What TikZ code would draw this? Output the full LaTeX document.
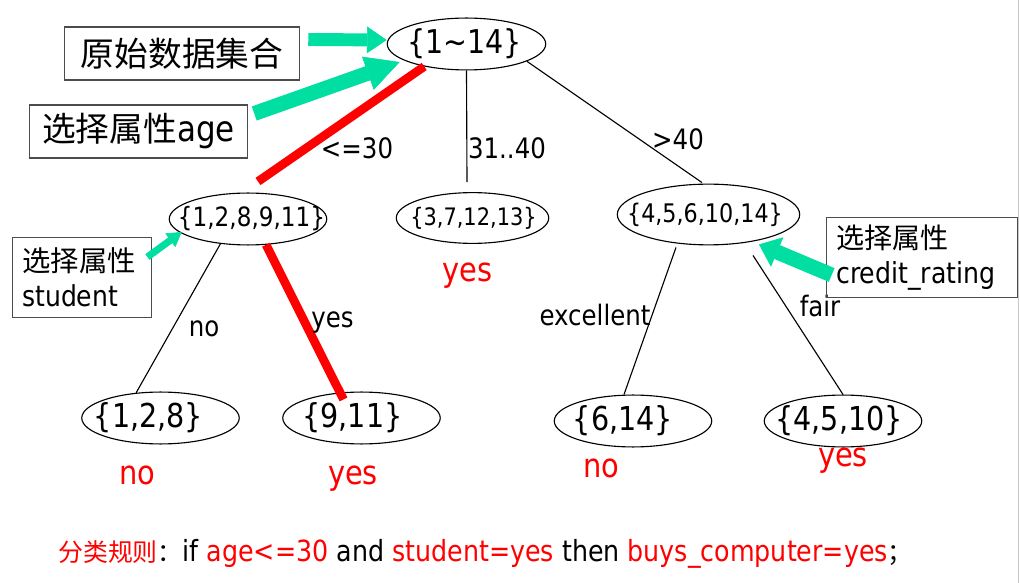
\documentclass[tikz,border=0pt]{standalone}
\usepackage{fontspec}
\setmainfont{DejaVu Sans}[FakeStretch=0.87]
\newfontfamily\cjk{Noto Sans CJK SC}
\usetikzlibrary{arrows.meta,shapes.geometric}
\definecolor{pickgreen}{RGB}{0,222,162}
\newcommand{\fsz}[2]{\fontsize{#1pt}{#2pt}\selectfont}
\newcommand{\settext}[2]{\makebox[0pt]{\kern#1\relax#2\kern-#1\relax}}
\tikzset{
  setnode/.style={draw, ellipse, inner sep=0pt, line width=0.8pt},
  leafset/.style={setnode, minimum width=112pt, minimum height=36.9pt, font=\fsz{23.4}{28}},
  notebox/.style={draw=black!70, line width=0.9pt, inner sep=0pt},
  branch/.style={line width=0.8pt},
  chosen/.style={red, line width=6.2pt},
  edgelabel/.style={font=\fsz{20}{24}},
  leaflabel/.style={red, font=\fsz{23.6}{28}},
  pickarrow/.style n args={3}{pickgreen, line width=#1, -{Triangle[width=#2,length=#3,line width=0.4pt]}}
}
\begin{document}
\begin{tikzpicture}[x=0.025cm, y=-0.025cm]
\useasboundingbox (0,0) rectangle (1020,583);
\draw[black!22, line width=1.2pt] (1018.5,0) -- (1018.5,583);

\node[setnode, minimum width=112.7pt, minimum height=36.9pt, font=\fsz{23.3}{28}] (root) at (466.5,44) {\settext{-1.4pt}{\{1\textasciitilde14\}}};
\node[setnode, minimum width=112pt, minimum height=36.9pt, font=\fsz{18.9}{22}] (nleft) at (248,219) {\settext{2.5pt}{\{1,2,8,9,11\}}};
\node[setnode, minimum width=108.4pt, minimum height=36.1pt, font=\fsz{17.1}{20}] (nmid) at (472.5,218) {\settext{0.7pt}{\{3,7,12,13\}}};
\node[setnode, minimum width=129.7pt, minimum height=43.2pt, font=\fsz{18.2}{22}] (nright) at (708.5,214.5) {\settext{-2.5pt}{\{4,5,6,10,14\}}};
\node[leafset] (nll) at (160.5,418) {\settext{-8.5pt}{\{1,2,8\}}};
\node[leafset] (nlr) at (361.5,418) {\settext{-6.4pt}{\{9,11\}}};
\node[leafset] (nrl) at (633,421) {\settext{-7.1pt}{\{6,14\}}};
\node[leafset] (nrr) at (843,421) {\settext{-2.8pt}{\{4,5,10\}}};

\draw[chosen] (root.208) -- ([shift={(10,-11)}]nleft.north);
\draw[branch] (root.south) -- ([shift={(-5.5,-10)}]nmid.north);
\draw[branch] (root.-16) -- ([shift={(-6.5,-1)}]nright.north);
\draw[branch] (nleft.222) -- (nll.134);
\draw[chosen] (nleft.-55) -- ([shift={(-18,8)}]nlr.north);
\draw[branch] ([shift={(-32.5,2)}]nright.south) -- ([shift={(-9,0)}]nrl.north);
\draw[branch] ([shift={(44.5,10)}]nright.south) -- (nrr.north);

\node[edgelabel] (lbyoung) at (357,148) {<=30};
\node[edgelabel] (lbmiddle) at (507,148) {31..40};
\node[edgelabel] (lbsenior) at (678,139) {>40};
\node[edgelabel] (lbno) at (204,328.5) {no};
\node[edgelabel] (lbyes) at (332.5,322.5) {yes};
\node[edgelabel] (lbexc) at (595,315) {excellent};
\node[edgelabel] (lbfair) at (820,306) {fair};

\node[leaflabel] (rmid) at (467.5,275.5) {yes};
\node[leaflabel] (rll) at (137.5,475) {no};
\node[leaflabel] (rlr) at (353,479) {yes};
\node[leaflabel] (rrl) at (601,468) {no};
\node[leaflabel] (rrr) at (843,461) {yes};

\node[notebox, minimum width=167.3pt, minimum height=37.6pt, font=\cjk\fsz{24}{28}] (rawbox) at (182,53.5) {原始数据集合};
\node[notebox, minimum width=155.2pt, minimum height=37.6pt] (agebox) at (138.5,131.5) {{\cjk\fsz{24}{28}选择属性}{\fsz{25.3}{30}age}};
\node[notebox, text width=85pt, inner xsep=7.1pt, minimum height=57.4pt, align=left, font=\fsz{20.5}{24.8}] (stubox) at (82,277.5) {{\cjk\fsz{20.2}{24.8}选择属性}\\student};
\node[notebox, text width=121.9pt, inner xsep=7.1pt, minimum height=57.4pt, align=left, font=\fsz{20.6}{24.8}] (crebox) at (922,257.5) {{\cjk\fsz{20}{24.8}选择属性}\\credit\_rating};

\draw[pickarrow={9.2pt}{19pt}{14pt}] ([shift={(8,-14)}]rawbox.east) -- ([shift={(0,-4)}]root.west);
\draw[pickarrow={10.6pt}{25pt}{24pt}] ([shift={(6,-18)}]agebox.east) -- ([shift={(13,18)}]root.west);
\draw[pickarrow={5pt}{12pt}{10pt}] ([shift={(-5,-20.5)}]stubox.east) -- ([shift={(13,13)}]nleft.west);
\draw[pickarrow={10.6pt}{22.7pt}{14pt}] ([shift={(6,17.5)}]crebox.west) -- ([shift={(50.5,-1)}]nright.south);

\node[anchor=west, inner sep=0pt, font=\fsz{20.7}{24}] (rule) at (58,554) {\textcolor{red}{\cjk\fsz{17.7}{21.6}分类规则}{\cjk\fsz{17.7}{21.6}：}if \textcolor{red}{age<=30} and \textcolor{red}{student=yes} then \textcolor{red}{buys\_computer=yes}{\cjk\fsz{17.7}{21.6}；}};
\end{tikzpicture}
\end{document}
